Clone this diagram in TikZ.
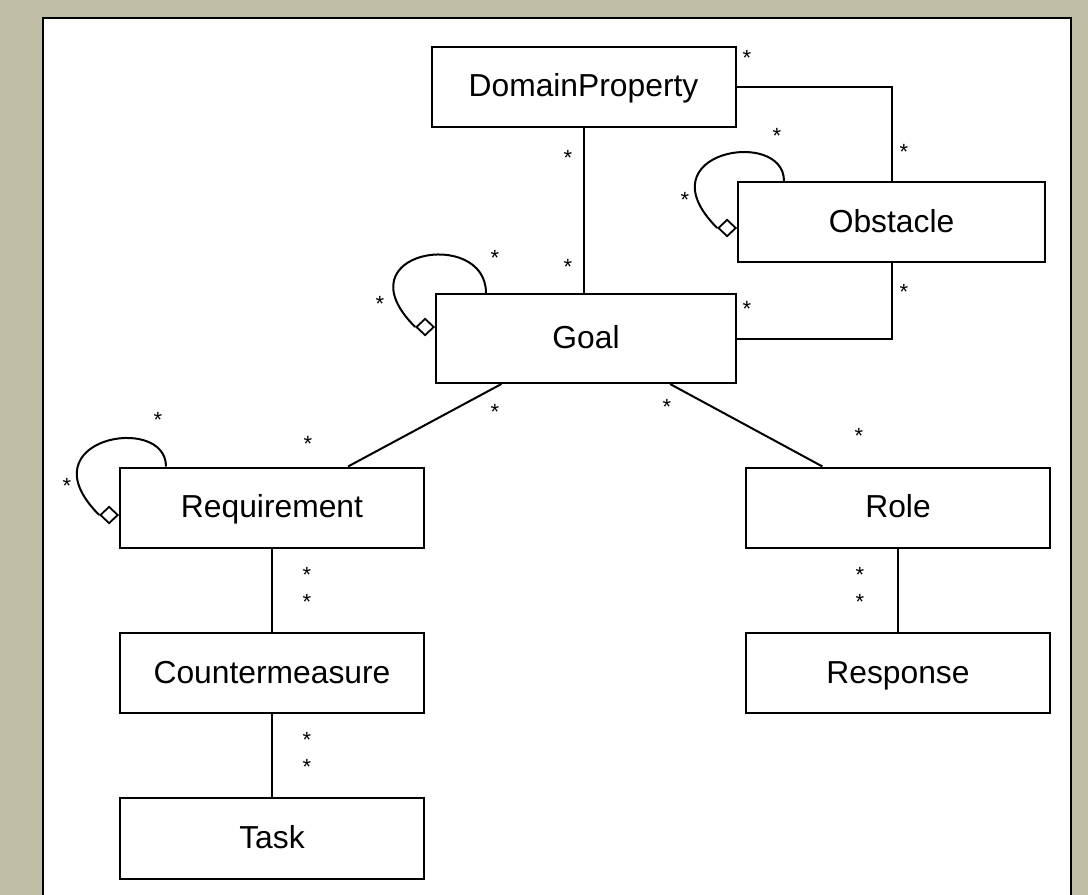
\documentclass[tikz,border=0pt]{standalone}
\usepackage{fontspec}
\setmainfont{Liberation Sans}
\usetikzlibrary{shapes.geometric, calc, positioning}
\definecolor{frameolive}{RGB}{192,191,166}

\begin{document}
\begin{tikzpicture}[
  x=1pt, y=1pt,
  class/.style={draw=black, line width=2pt, fill=white, align=center,
                minimum width=304pt, minimum height=80pt, inner sep=0pt,
                text height=25pt, text depth=5pt,
                font=\fontsize{31.8}{38}\selectfont},
  agg/.style={shape=diamond, draw=black, line width=1.8pt, fill=white,
              minimum width=18pt, minimum height=17pt, inner sep=0pt},
  assoc/.style={line width=2pt, color=black},
  mult/.style={inner sep=0pt, font=\fontsize{22}{24}\selectfont, yshift=-5pt}
]
\useasboundingbox (0,0) rectangle (1088,-895);
\clip (0,0) rectangle (1088,-895);
\fill[frameolive] (0,0) rectangle (1088,-895);
\draw[line width=2.6pt, fill=white] (43,-18) rectangle (1071,-910);

\node[class] (dp) at (583.5,-86.5) {DomainProperty};
\node[class, minimum width=307pt] (obs) at (891.5,-222) {Obstacle};
\node[class, minimum width=300pt, minimum height=89pt] (goal) at (586,-338.5) {Goal};
\node[class] (req) at (272,-507.5) {Requirement};
\node[class] (role) at (898,-507.5) {Role};
\node[class] (cm) at (272,-673) {Countermeasure};
\node[class] (resp) at (898,-673) {Response};
\node[class, minimum height=81pt] (task) at (272,-838.5) {Task};

% aggregation diamonds on the self links
\node[agg, anchor=east] (goalagg) at ([yshift=11.5pt]goal.west) {};
\node[agg, anchor=east] (obsagg) at ([yshift=-6pt]obs.west) {};
\node[agg, anchor=east] (reqagg) at ([yshift=-7.5pt]req.west) {};

\draw[assoc] ([xshift=51pt]goal.north west) to[out=90, in=135, out distance=66pt, in distance=108pt] (goalagg.west);
\draw[assoc] ([xshift=47pt]obs.north west) to[out=90, in=135, out distance=54pt, in distance=108pt] (obsagg.west);
\draw[assoc] ([xshift=47pt]req.north west) to[out=90, in=135, out distance=54pt, in distance=108pt] (reqagg.west);

\draw[assoc] (dp.east) -| (obs.north);
\draw[assoc] (obs.south) |- (goal.east);
\draw[assoc] (dp.south) -- (dp.south |- goal.north);
\draw[assoc] (goal) -- (req);
\draw[assoc] (goal) -- (role);
\draw[assoc] (req) -- (cm);
\draw[assoc] (cm) -- (task);
\draw[assoc] (role) -- (resp);

% multiplicities
\foreach \x/\y [count=\i] in {747/53, 777/131, 904/147, 685/195, 568/153, 568/262,
    495/253, 380/299, 747/304, 904/287, 495/407, 308/439, 667/402, 859/431,
    158/415, 67/481, 307/570, 307/597, 307/735, 307/762, 860/570, 860/597}
  \node[mult] (m\i) at (\x,-\y) {*};
\end{tikzpicture}
\end{document}
